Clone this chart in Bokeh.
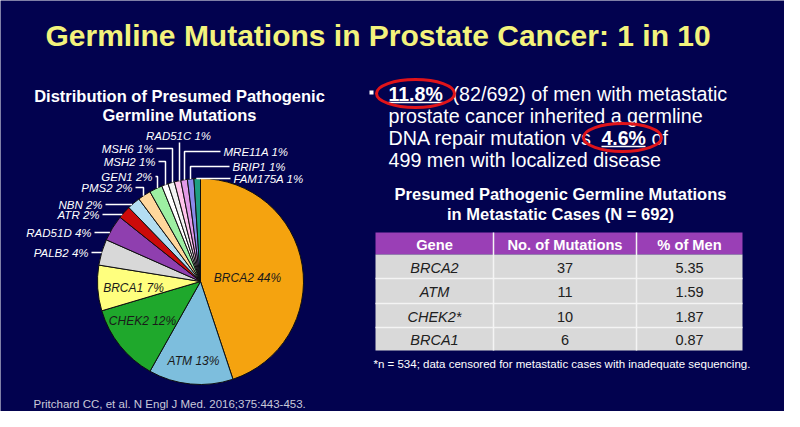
import math
from bokeh.plotting import figure
from bokeh.models import Range1d
from bokeh.core.properties import value
from bokeh.embed import file_html
from bokeh.resources import INLINE

# ---------------- data ----------------
genes_pie = ["BRCA2", "ATM", "CHEK2", "BRCA1", "PALB2", "RAD51D", "ATR", "NBN",
             "PMS2", "GEN1", "MSH2", "MSH6", "RAD51C", "MRE11A", "BRIP1", "FAM175A"]
pct_pie = [44, 13, 12, 7, 4, 4, 2, 2, 2, 2, 1, 1, 1, 1, 1, 1]
colors_pie = ["#F5A30F", "#7DBEDD", "#1FA82C", "#FFFF7E", "#D8D8D8", "#8F3FAF",
              "#CC0A0A", "#B3DDF2", "#FFD79C", "#9DEFA2", "#FFFFFF", "#F2F2F2",
              "#FFC4EC", "#E39AE6", "#8A8AEA", "#1E9E82"]

table_genes = ["BRCA2", "ATM", "CHEK2*", "BRCA1"]
table_mut = [37, 11, 10, 6]
table_pct = ["5.35", "1.59", "1.87", "0.87"]
table_header = ["Gene", "No. of Mutations", "% of Men"]

BG = "#02024F"
FONT = "Liberation Sans"

p = figure(width=784, height=411, output_backend="svg", toolbar_location=None,
           x_range=Range1d(0, 784), y_range=Range1d(16, 427), min_border=0)
p.axis.visible = False
p.grid.visible = False
p.outline_line_color = None
p.background_fill_color = BG
p.border_fill_color = BG


def Y(py):
    return 427 - py


def T(x, py, s, size, color="white", style="normal", align="left", font=FONT):
    p.text(x=[x], y=[Y(py)], text=[s], text_font=value(font), text_font_size=size,
           text_font_style=style, text_color=color, text_align=align,
           text_baseline="middle")


# ---------------- title ----------------
T(45, 35, "Germline Mutations in Prostate Cancer: 1 in 10", "30px", "#F3F37C", "bold")

# ---------------- pie ----------------
cx, cy, r = 200, 281, 103
total = sum(pct_pie)
cum = 0.0
starts, ends = [], []
for v in pct_pie:
    a0 = cum / total * 2 * math.pi
    cum += v
    a1 = cum / total * 2 * math.pi
    starts.append(math.pi / 2 - a1)
    ends.append(math.pi / 2 - a0)
p.wedge(x=[cx] * len(pct_pie), y=[Y(cy)] * len(pct_pie), radius=r,
        start_angle=starts, end_angle=ends, direction="anticlock",
        fill_color=colors_pie, line_color="#101010", line_width=1)

T(179, 95, "Distribution of Presumed Pathogenic", "16.5px", "white", "bold", "center")
T(179, 114, "Germline Mutations", "16.5px", "white", "bold", "center")

# inside labels
inside = [(247, 277, 0), (193, 360, 1), (142, 320, 2), (133, 287, 3)]
for x, py, i in inside:
    T(x, py, f"{genes_pie[i]} {pct_pie[i]}%", "12px", "#1A1A1A", "italic", "center")


def edge_y(x):
    return cy - math.sqrt(r * r - (x - cx) ** 2)


def edge_x(py):
    return cx - math.sqrt(r * r - (py - cy) ** 2)


# left side horizontal labels
for i, py, tx in [(4, 252, 88), (5, 232, 91), (6, 214, 99), (7, 204, 102)]:
    T(tx, py, f"{genes_pie[i]} {pct_pie[i]}%", "11.5px", "white", "italic", "right")
    p.line([tx + 3, edge_x(py)], [Y(py), Y(py)], line_color="white", line_width=1.5)

# left side elbow labels
for i, py, tx, vx in [(8, 187, 132, 143), (9, 176, 152, 157), (10, 161, 155, 165),
                      (11, 148, 153, 172)]:
    T(tx, py, f"{genes_pie[i]} {pct_pie[i]}%", "11.5px", "white", "italic", "right")
    p.line([tx + 3, vx, vx], [Y(py), Y(py), Y(edge_y(vx))], line_color="white",
           line_width=1.5)

# top label
T(178, 135, f"{genes_pie[12]} {pct_pie[12]}%", "11.5px", "white", "italic", "center")
p.line([179, 179], [Y(142), Y(edge_y(179))], line_color="white", line_width=1.5)

# right side elbow labels
for i, py, tx, vx in [(13, 151, 223, 184), (14, 166, 232, 190), (15, 178, 233, 196)]:
    T(tx, py, f"{genes_pie[i]} {pct_pie[i]}%", "11.5px", "white", "italic", "left")
    p.line([tx - 3, vx, vx], [Y(py), Y(py), Y(edge_y(vx))], line_color="white",
           line_width=1.5)

T(33, 403, "Pritchard CC, et al. N Engl J Med. 2016;375:443-453.", "11.5px", "#C9C9D9")

# ---------------- bullet text ----------------
p.rect(x=[371], y=[Y(92)], width=4, height=4, fill_color="white", line_color=None)
T(388, 93, "11.8%", "19.5px", "white", "bold")
T(452, 93, "(82/692) of men with metastatic", "19.7px")
T(388, 115, "prostate cancer inherited a germline", "19.7px")
T(388, 137, "DNA repair mutation vs", "19.7px")
T(601, 137, "4.6%", "19.5px", "white", "bold")
T(651, 137, "of", "19.7px")
T(388, 159, "499 men with localized disease", "19.7px")
p.line([388, 443], [Y(102), Y(102)], line_color="white", line_width=1.5)
p.line([601, 645], [Y(146), Y(146)], line_color="white", line_width=1.5)
p.ellipse(x=[415, 622], y=[Y(93), Y(137)], width=[78, 78], height=[28, 28],
          fill_alpha=0, line_color="#E0141A", line_width=3)

# ---------------- table ----------------
T(560, 193, "Presumed Pathogenic Germline Mutations", "16.5px", "white", "bold", "center")
T(560, 213, "in Metastatic Cases (N = 692)", "16.5px", "white", "bold", "center")

col_edges = [375, 493, 636, 742]
row_edges = [232, 254, 278, 303, 327, 350]
p.quad(left=[col_edges[0]], right=[col_edges[-1]], top=[Y(row_edges[0])],
       bottom=[Y(row_edges[1])], fill_color="#9A3FB6", line_color=None)
p.quad(left=[col_edges[0]], right=[col_edges[-1]], top=[Y(row_edges[1])],
       bottom=[Y(row_edges[-1])], fill_color="#D9D9D9", line_color=None)
for ry in row_edges[2:-1]:
    p.line([col_edges[0], col_edges[-1]], [Y(ry), Y(ry)], line_color="#F4F4F4",
           line_width=1.5)
for cxe in col_edges[1:-1]:
    p.line([cxe, cxe], [Y(row_edges[0]), Y(row_edges[-1])], line_color="#F4F4F4",
           line_width=1.5)

col_centers = [(col_edges[i] + col_edges[i + 1]) / 2 for i in range(3)]
col_centers[0] = 434
for j, h in enumerate(table_header):
    T(col_centers[j], (row_edges[0] + row_edges[1]) / 2 + 1, h, "14.7px", "white",
      "bold", "center")
for k in range(len(table_genes)):
    ym = (row_edges[k + 1] + row_edges[k + 2]) / 2 + 1
    T(col_centers[0], ym, table_genes[k], "14.5px", "#202020", "italic", "center")
    T(col_centers[1], ym, str(table_mut[k]), "14.5px", "#202020", "normal", "center")
    T(col_centers[2], ym, table_pct[k], "14.5px", "#202020", "normal", "center")

T(373, 363, "*n = 534; data censored for metastatic cases with inadequate sequencing.",
  "11.5px", "white")

open("out.html", "w").write(file_html(p, INLINE))
